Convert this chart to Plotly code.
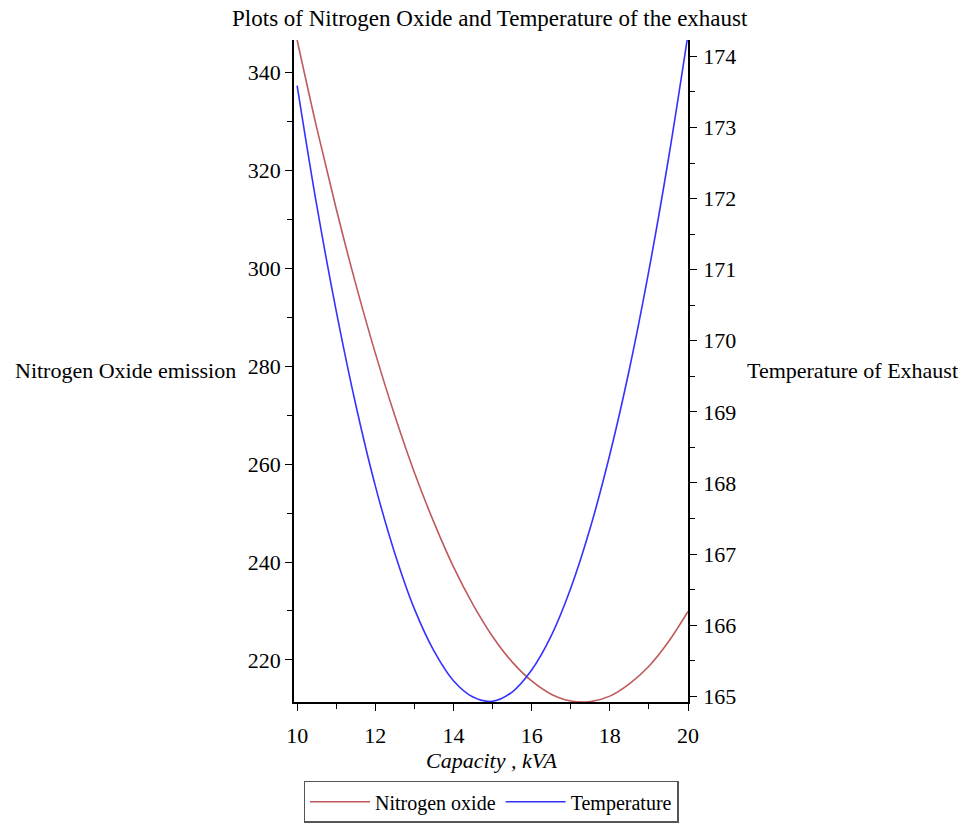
import plotly.graph_objects as go

capacity = [10, 10.5, 11, 11.5, 12, 12.5, 13, 13.5, 14, 14.5, 15, 15.5,
            16, 16.5, 17, 17.5, 18, 18.5, 19, 19.5, 20]
nitrogen_oxide = [346.7, 328.8, 312.2, 296.8, 282.7, 269.9, 258.3, 248.1, 239.0,
                  231.3, 224.8, 219.6, 215.7, 213.0, 211.6, 211.5, 212.6, 215.1,
                  218.7, 223.7, 229.9]
temperature = [173.59, 171.91, 170.42, 169.10, 167.96, 167.01, 166.23, 165.64,
               165.22, 164.99, 164.93, 165.06, 165.37, 165.85, 166.52, 167.37,
               168.40, 169.60, 170.99, 172.56, 174.31]

left_ticks = [220, 240, 260, 280, 300, 320, 340]
right_ticks = [165, 166, 167, 168, 169, 170, 171, 172, 173, 174]
x_ticks = [10, 12, 14, 16, 18, 20]

FONT = "Liberation Serif"
RED = "#BF5A5A"
BLUE = "#3333FF"

fig = go.Figure()
fig.add_trace(go.Scatter(x=capacity, y=nitrogen_oxide, name="Nitrogen oxide",
                         mode="lines", line=dict(color=RED, width=1.6, shape="spline"),
                         yaxis="y"))
fig.add_trace(go.Scatter(x=capacity, y=temperature, name="Temperature",
                         mode="lines", line=dict(color=BLUE, width=1.6, shape="spline"),
                         yaxis="y2"))

axis_common = dict(showgrid=False, zeroline=False, showline=True, linecolor="black",
                   linewidth=1.5, ticks="outside", ticklen=7, tickcolor="black",
                   tickwidth=1.2, tickfont=dict(family=FONT, size=22, color="black"))

fig.update_layout(
    width=966, height=825,
    margin=dict(l=294, r=278, t=40, b=123, autoexpand=False),
    paper_bgcolor="white", plot_bgcolor="white",
    font=dict(family=FONT, color="black"),
    title=dict(text="Plots of Nitrogen Oxide and Temperature of the exhaust",
               x=0.507, xanchor="center", y=0.978, yanchor="middle",
               font=dict(family=FONT, size=23, color="black")),
    xaxis=dict(range=[9.92, 20.0], tickvals=x_ticks, ticklabelstandoff=6,
               minor=dict(dtick=1, ticks="outside", ticklen=5, tickcolor="black"),
               **axis_common),
    yaxis=dict(range=[211.4, 346.7], tickvals=left_ticks,
               minor=dict(dtick=10, ticks="outside", ticklen=5, tickcolor="black"),
               **axis_common),
    yaxis2=dict(range=[164.92, 174.23], tickvals=right_ticks, overlaying="y", side="right",
                ticklabelstandoff=2,
                minor=dict(dtick=0.5, ticks="outside", ticklen=5, tickcolor="black"),
                **axis_common),
    showlegend=True,
    legend=dict(orientation="h", x=0.5, xanchor="center", y=-0.119, yanchor="top",
                bordercolor="#555555", borderwidth=1.5,
                font=dict(family=FONT, size=20, color="black"),
                itemwidth=60),
)

fig.add_annotation(text="Nitrogen Oxide emission", xref="paper", yref="paper",
                   x=-0.142, y=0.5015, xanchor="right", yanchor="middle", showarrow=False,
                   font=dict(family=FONT, size=22, color="black"))
fig.add_annotation(text="Temperature of Exhaust", xref="paper", yref="paper",
                   x=1.1447, y=0.5015, xanchor="left", yanchor="middle", showarrow=False,
                   font=dict(family=FONT, size=22, color="black"))
fig.add_annotation(text="<i>Capacity , kVA</i>", xref="paper", yref="paper",
                   x=0.5, y=-0.088, xanchor="center", yanchor="middle", showarrow=False,
                   font=dict(family=FONT, size=22, color="black"))

fig.write_html("out.html")
